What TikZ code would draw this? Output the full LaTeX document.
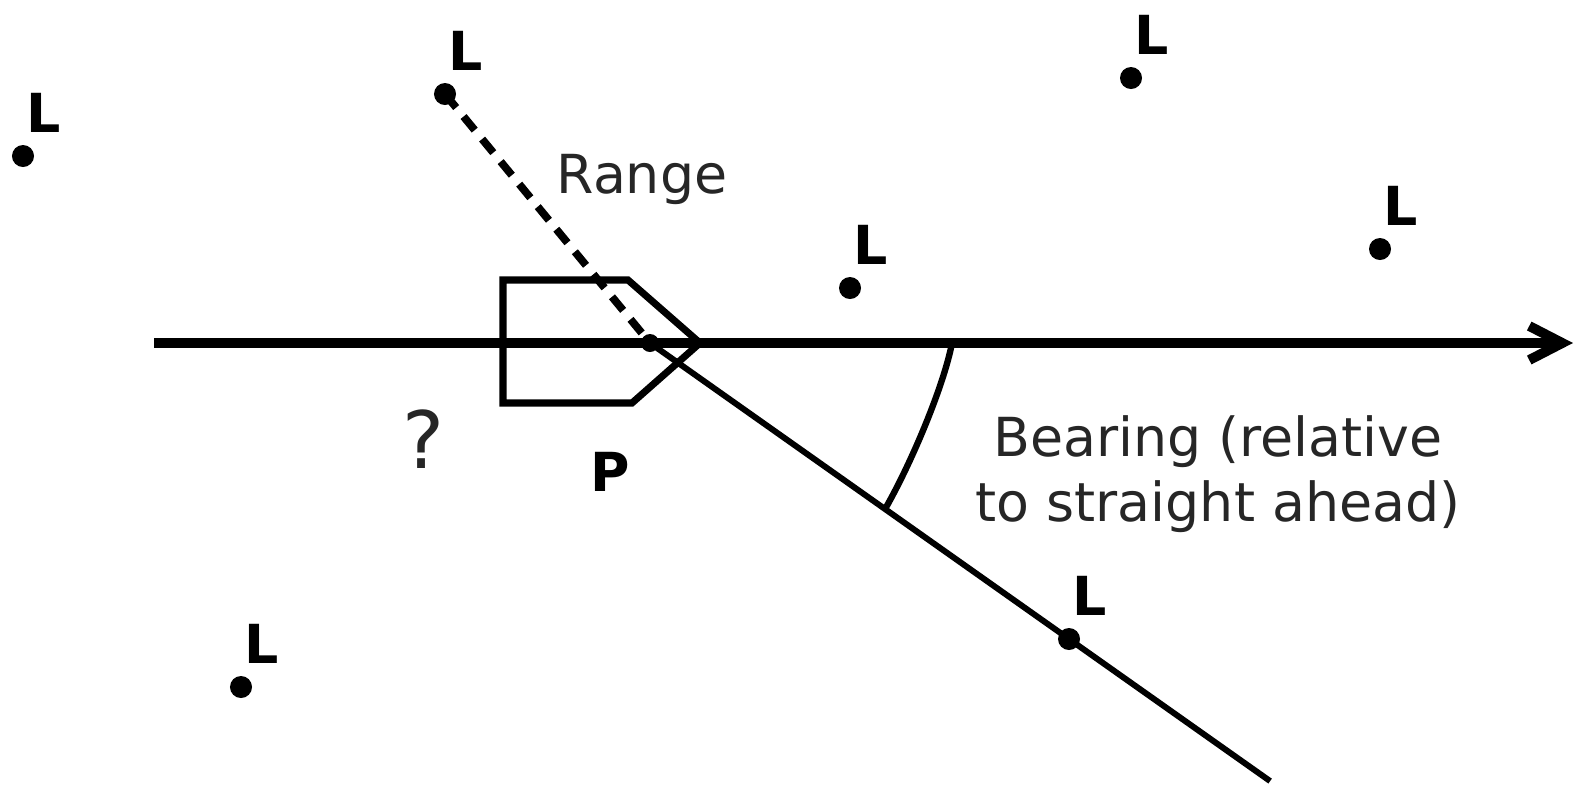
\documentclass[tikz,border=0pt]{standalone}
\usepackage{fontspec}
\setmainfont{DejaVu Sans}
\usepackage{tikz}
\usetikzlibrary{arrows.meta,positioning,calc}
\definecolor{ink}{HTML}{000000}
\definecolor{soft}{HTML}{262626}
\newcommand{\sz}{\fontsize{15.3}{18.6}\selectfont}
\tikzset{
  lm/.style={circle, fill=ink, inner sep=0pt, minimum size=0.22cm},
  lmlbl/.style={font=\sz\bfseries, text=ink, inner sep=0pt},
  pose/.style={circle, fill=ink, inner sep=0pt, minimum size=0.18cm},
  lbl/.style={font=\sz, text=soft, align=center, inner sep=0pt},
  heading/.style={line width=2.8pt, -{Straight Barb[length=3.3mm,width=3.4mm]}},
  body/.style={line width=2pt, line join=miter},
  ray/.style={line width=1.7pt},
  guess/.style={line width=2.2pt, dash pattern=on 5pt off 3.3pt},
  angle/.style={line width=1.8pt},
}
\newcommand{\landmarks}[1]{%
  \foreach \name/\x/\y in {#1} {%
    \node[lm] (\name) at (\x,\y) {};
    \node[lmlbl] (\name-lbl) at ($(\name)+(21,-43)$) {L};
  }}

\begin{document}
\begin{tikzpicture}[x=0.01cm,y=-0.01cm]
  \useasboundingbox (0,0) rectangle (1581,784);
  % robot pose and heading
  \coordinate (ax0) at (154,343);
  \coordinate (ax1) at (1573,343);
  \draw[heading] (ax0) -- (ax1);
  \draw[body] (503,280) -- (628,280) -- (700,343) -- (632,403) -- (503,403) -- cycle;
  \node[pose] (p) at (650,343) {};
  % landmarks
  \landmarks{l1/23/156, l2/445/94, l3/1131/78, l4/850/288, l5/1380/249, l6/1069/639, l7/241/687}
  % range and bearing
  \draw[guess] (l2.center) -- (p.center);
  \coordinate (tail) at ($(p)!1.48!(l6)$);
  \draw[ray] (p.center) -- (tail);
  \coordinate (arcA) at (952,343);
  \coordinate (arcB) at ($(p)!0.561!(l6)$);
  \draw[angle] (arcA) .. controls (944,385) and (912,462) .. (arcB);
  \node[lbl] (range) at (642,179) {Range};
  \node[lbl] (bearing) at (1218,474) {Bearing (relative\\to straight ahead)};
  \node[lbl, font=\fontsize{22.5}{27}\selectfont] (unknown) at (423,439) {?};
  \node[lmlbl] (plbl) at (610,472) {P};
\end{tikzpicture}
\end{document}
